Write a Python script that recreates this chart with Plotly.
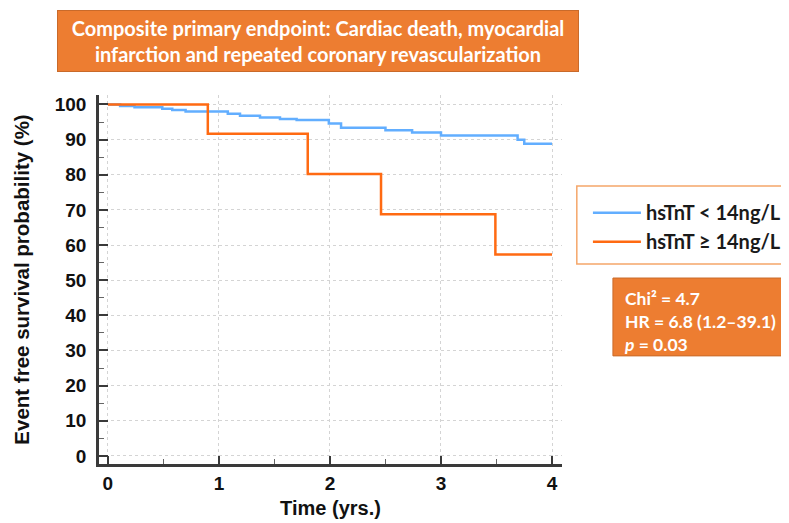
import plotly.graph_objects as go

# Kaplan-Meier step data (time in years, survival %)
low_t = [0, 0.11, 0.24, 0.49, 0.58, 0.70, 1.08, 1.19, 1.37, 1.55, 1.70, 1.99, 2.10, 2.50, 2.74, 3.00, 3.69, 3.75, 4.0]
low_s = [100, 99.6, 99.2, 98.8, 98.4, 98.0, 97.4, 96.8, 96.3, 95.9, 95.6, 94.6, 93.4, 92.7, 92.0, 91.2, 90.0, 88.8, 88.8]

high_t = [0, 0.90, 1.80, 2.46, 3.49, 4.0]
high_s = [100, 91.7, 80.2, 68.8, 57.3, 57.3]

series_names = ["hsTnT < 14ng/L", "hsTnT ≥ 14ng/L"]
x_ticks = [0, 1, 2, 3, 4]
y_ticks = [0, 10, 20, 30, 40, 50, 60, 70, 80, 90, 100]

title_text = "Composite primary endpoint: Cardiac death, myocardial<br>infarction and repeated coronary revascularization"
stats_text = "Chi² = 4.7<br>HR = 6.8 (1.2–39.1)<br><i>p</i> = 0.03"

BLUE = "#62AEFF"
ORANGE = "#FF6A12"
BOX = "#ED7D31"
AX = "#3a3a3a"
FONT = "Arial"
CAL = "Lato"

fig = go.Figure()
fig.add_trace(go.Scatter(x=low_t, y=low_s, mode="lines", line=dict(color=BLUE, width=2.5, shape="hv"),
                         name=series_names[0]))
fig.add_trace(go.Scatter(x=high_t, y=high_s, mode="lines", line=dict(color=ORANGE, width=2.5, shape="hv"),
                         name=series_names[1]))

fig.update_layout(
    width=789, height=523,
    margin=dict(l=91, r=235, t=87, b=67, autoexpand=False),
    plot_bgcolor="white", paper_bgcolor="white",
    showlegend=True,
    legend=dict(x=1.056, y=0.734, xanchor="left", yanchor="top",
                bgcolor="rgba(0,0,0,0)", borderwidth=0,
                font=dict(family=CAL, size=20, color="#1a1a1a", weight="bold"),
                tracegroupgap=0, itemwidth=48),
)

fig.update_xaxes(
    range=[-0.08, 4.09], tickvals=x_ticks, ticktext=[str(v) for v in x_ticks],
    showline=True, linecolor=AX, linewidth=2.5,
    ticks="inside", ticklen=8, tickwidth=2, tickcolor=AX,
    minor=dict(ticks="inside", ticklen=5, tickwidth=1, tickcolor="#666", dtick=0.5, showgrid=False),
    showgrid=True, gridcolor="#d4d4d4", griddash="dot", gridwidth=1,
    zeroline=False, automargin=False,
    tickfont=dict(family=FONT, size=19, color="#111", weight="bold"),
    ticklabelstandoff=0,
    title=dict(text="Time (yrs.)", font=dict(family=FONT, size=20, color="#111", weight="bold"), standoff=9),
)
fig.update_yaxes(
    range=[-2.3, 102.7], tickvals=y_ticks, ticktext=[str(v) for v in y_ticks],
    showline=True, linecolor=AX, linewidth=2.5,
    ticks="inside", ticklen=9, tickwidth=2, tickcolor=AX,
    minor=dict(ticks="inside", ticklen=5, tickwidth=1, tickcolor="#666", dtick=5, showgrid=False),
    showgrid=True, gridcolor="#d4d4d4", griddash="dot", gridwidth=1,
    zeroline=False, automargin=False,
    tickfont=dict(family=FONT, size=19, color="#111", weight="bold"),
    ticklabelstandoff=6,
    title=dict(text="Event free survival probability (%)", font=dict(family=FONT, size=20.5, color="#111", weight="bold"), standoff=20),
)

# Title box
fig.add_annotation(xref="paper", yref="paper", x=0.473, y=1.146, xanchor="center", yanchor="middle",
                   text=title_text, showarrow=False, align="center",
                   font=dict(family=CAL, size=20, color="white", weight="bold"),
                   bgcolor=BOX, bordercolor="#C96A2A", borderwidth=1, width=518, height=58, borderpad=1)

# Legend frame (extends past right edge like the reference)
fig.add_shape(type="rect", xref="paper", yref="paper", x0=1.032, x1=1.5, y0=(464 - 264) / 369, y1=(464 - 186) / 369,
              line=dict(color="#F5A66A", width=1.5), fillcolor="rgba(0,0,0,0)", layer="above")

# Stats box
fig.add_shape(type="rect", xref="paper", yref="paper", x0=1.110, x1=1.475, y0=0.293, y1=0.504,
              line=dict(color="#C96A2A", width=1), fillcolor=BOX, layer="above")
fig.add_annotation(xref="paper", yref="paper", x=1.1296, y=0.3875, xanchor="left", yanchor="middle",
                   text=stats_text, showarrow=False, align="left",
                   font=dict(family=CAL, size=17.5, color="white", weight="bold"))

fig.write_html("out.html")
